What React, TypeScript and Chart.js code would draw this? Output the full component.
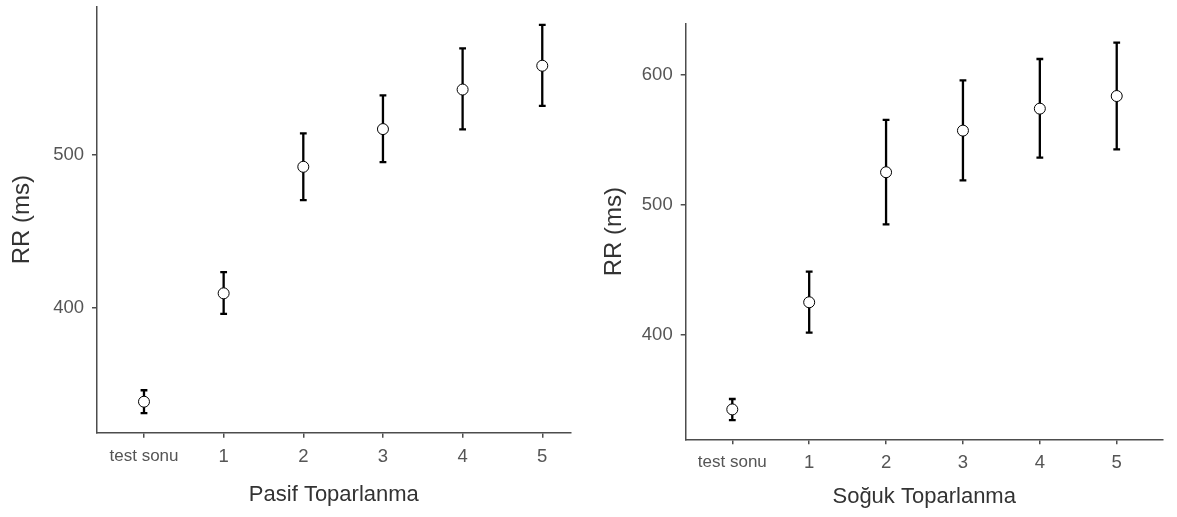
import React, { useEffect, useRef } from "react";
import { Chart, registerables } from "chart.js";

Chart.register(...registerables);

// ---- data ----
const categories = ["test sonu", "1", "2", "3", "4", "5"];

const pasifMean = [338.5, 409.5, 492.4, 517.1, 543.0, 558.6];
const pasifLower = [331.0, 396.0, 470.6, 495.5, 516.9, 532.3];
const pasifUpper = [346.0, 423.4, 514.3, 539.2, 570.0, 585.3];
const pasifTicks = [400, 500];
const pasifYRange = [318.2, 597.4];
const pasifXRange = [-0.59, 5.357];

const sogukMean = [342.8, 425.2, 525.2, 557.2, 574.1, 583.8];
const sogukLower = [334.6, 401.8, 485.1, 519.0, 536.4, 542.8];
const sogukUpper = [350.8, 448.7, 565.4, 595.9, 612.3, 624.8];
const sogukTicks = [400, 500, 600];
const sogukYRange = [319.8, 639.2];
const sogukXRange = [-0.606, 5.598];

const yTitle = "RR (ms)";
const pasifTitle = "Pasif Toparlanma";
const sogukTitle = "Soğuk Toparlanma";

// ---- styles ----
const FONT = "'Liberation Sans', Arial, sans-serif";
const AXIS_COLOR = "#4d4d4d";
const TICK_TEXT = "#555555";
const TITLE_TEXT = "#333333";

const errorBarPlugin = {
  id: "errorBars",
  beforeDatasetsDraw(chart: any, _args: any, opts: any) {
    const { ctx } = chart;
    const x = chart.scales.x;
    const y = chart.scales.y;
    ctx.save();
    ctx.strokeStyle = "#000000";
    ctx.lineWidth = 2.3;
    ctx.lineCap = "butt";
    (opts.lower as number[]).forEach((lo, i) => {
      const px = x.getPixelForValue(i);
      const yl = y.getPixelForValue(lo);
      const yu = y.getPixelForValue(opts.upper[i]);
      ctx.beginPath();
      ctx.moveTo(px, yl);
      ctx.lineTo(px, yu);
      ctx.moveTo(px - 3.4, yl);
      ctx.lineTo(px + 3.4, yl);
      ctx.moveTo(px - 3.4, yu);
      ctx.lineTo(px + 3.4, yu);
      ctx.stroke();
    });
    ctx.restore();
  },
};

function makeConfig(p: {
  means: number[];
  lower: number[];
  upper: number[];
  yTicks: number[];
  yRange: number[];
  xRange: number[];
  xTitle: string;
  yWidth: number;
  xHeight: number;
  padTop: number;
  padRight: number;
  yTitlePad: number;
  xTitlePad: number;
}): any {
  return {
    type: "scatter",
    data: {
      datasets: [
        {
          data: p.means.map((v, i) => ({ x: i, y: v })),
          pointRadius: 5.5,
          pointHoverRadius: 5.5,
          pointBackgroundColor: "#ffffff",
          pointBorderColor: "#000000",
          pointBorderWidth: 1,
          showLine: false,
        },
      ],
    },
    plugins: [errorBarPlugin],
    options: {
      responsive: false,
      animation: false,
      devicePixelRatio: 1,
      layout: { padding: { left: 0, right: p.padRight, top: p.padTop, bottom: 0 } },
      plugins: {
        legend: { display: false },
        tooltip: { enabled: false },
        errorBars: { lower: p.lower, upper: p.upper },
      },
      scales: {
        x: {
          type: "linear",
          min: p.xRange[0],
          max: p.xRange[1],
          afterBuildTicks: (s: any) => {
            s.ticks = categories.map((_, i) => ({ value: i }));
          },
          afterFit: (s: any) => {
            s.height = p.xHeight;
            s.paddingLeft = 0;
            s.paddingRight = 0;
          },
          ticks: {
            callback: (v: any) => categories[v] ?? "",
            font: (ctx: any) => ({
              family: FONT,
              size: ctx.index === 0 ? 17 : 18.5,
            }),
            color: TICK_TEXT,
            padding: 8,
            maxRotation: 0,
            autoSkip: false,
          },
          grid: {
            drawOnChartArea: false,
            drawTicks: true,
            tickLength: 5,
            color: AXIS_COLOR,
            lineWidth: 1.5,
          },
          border: { display: true, color: AXIS_COLOR, width: 1.5 },
          title: {
            display: true,
            text: p.xTitle,
            font: { family: FONT, size: 22 },
            color: TITLE_TEXT,
            padding: { top: 4, bottom: p.xTitlePad },
          },
        },
        y: {
          type: "linear",
          min: p.yRange[0],
          max: p.yRange[1],
          afterBuildTicks: (s: any) => {
            s.ticks = p.yTicks.map((v) => ({ value: v }));
          },
          afterFit: (s: any) => {
            s.width = p.yWidth;
            s.paddingTop = 0;
            s.paddingBottom = 0;
          },
          ticks: {
            font: { family: FONT, size: 18.5 },
            color: TICK_TEXT,
            padding: 8,
          },
          grid: {
            drawOnChartArea: false,
            drawTicks: true,
            tickLength: 5,
            color: AXIS_COLOR,
            lineWidth: 1.5,
          },
          border: { display: true, color: AXIS_COLOR, width: 1.5 },
          title: {
            display: true,
            text: yTitle,
            font: { family: FONT, size: 24 },
            color: TITLE_TEXT,
            padding: { top: p.yTitlePad, bottom: 0 },
          },
        },
      },
    },
  };
}

export default function App() {
  const leftRef = useRef<HTMLCanvasElement | null>(null);
  const rightRef = useRef<HTMLCanvasElement | null>(null);

  useEffect(() => {
    const left = new Chart(
      leftRef.current as HTMLCanvasElement,
      makeConfig({
        means: pasifMean,
        lower: pasifLower,
        upper: pasifUpper,
        yTicks: pasifTicks,
        yRange: pasifYRange,
        xRange: pasifXRange,
        xTitle: pasifTitle,
        yWidth: 97,
        xHeight: 84.3,
        padTop: 2,
        padRight: 19.3,
        yTitlePad: 7.6,
        xTitlePad: 8.8,
      })
    );
    const right = new Chart(
      rightRef.current as HTMLCanvasElement,
      makeConfig({
        means: sogukMean,
        lower: sogukLower,
        upper: sogukUpper,
        yTicks: sogukTicks,
        yRange: sogukYRange,
        xRange: sogukXRange,
        xTitle: sogukTitle,
        yWidth: 95.7,
        xHeight: 77.7,
        padTop: 24,
        padRight: 14.3,
        yTitlePad: 10.3,
        xTitlePad: 6.8,
      })
    );
    return () => {
      left.destroy();
      right.destroy();
    };
  }, []);

  return (
    <div
      style={{
        position: "absolute",
        left: 0,
        top: 0,
        width: 1177,
        height: 517,
        background: "#ffffff",
        overflow: "hidden",
      }}
    >
      <canvas
        ref={leftRef}
        width={590}
        height={517}
        style={{ position: "absolute", left: 0, top: 0, width: 590, height: 517 }}
      />
      <canvas
        ref={rightRef}
        width={587}
        height={517}
        style={{ position: "absolute", left: 590, top: 0, width: 587, height: 517 }}
      />
    </div>
  );
}
